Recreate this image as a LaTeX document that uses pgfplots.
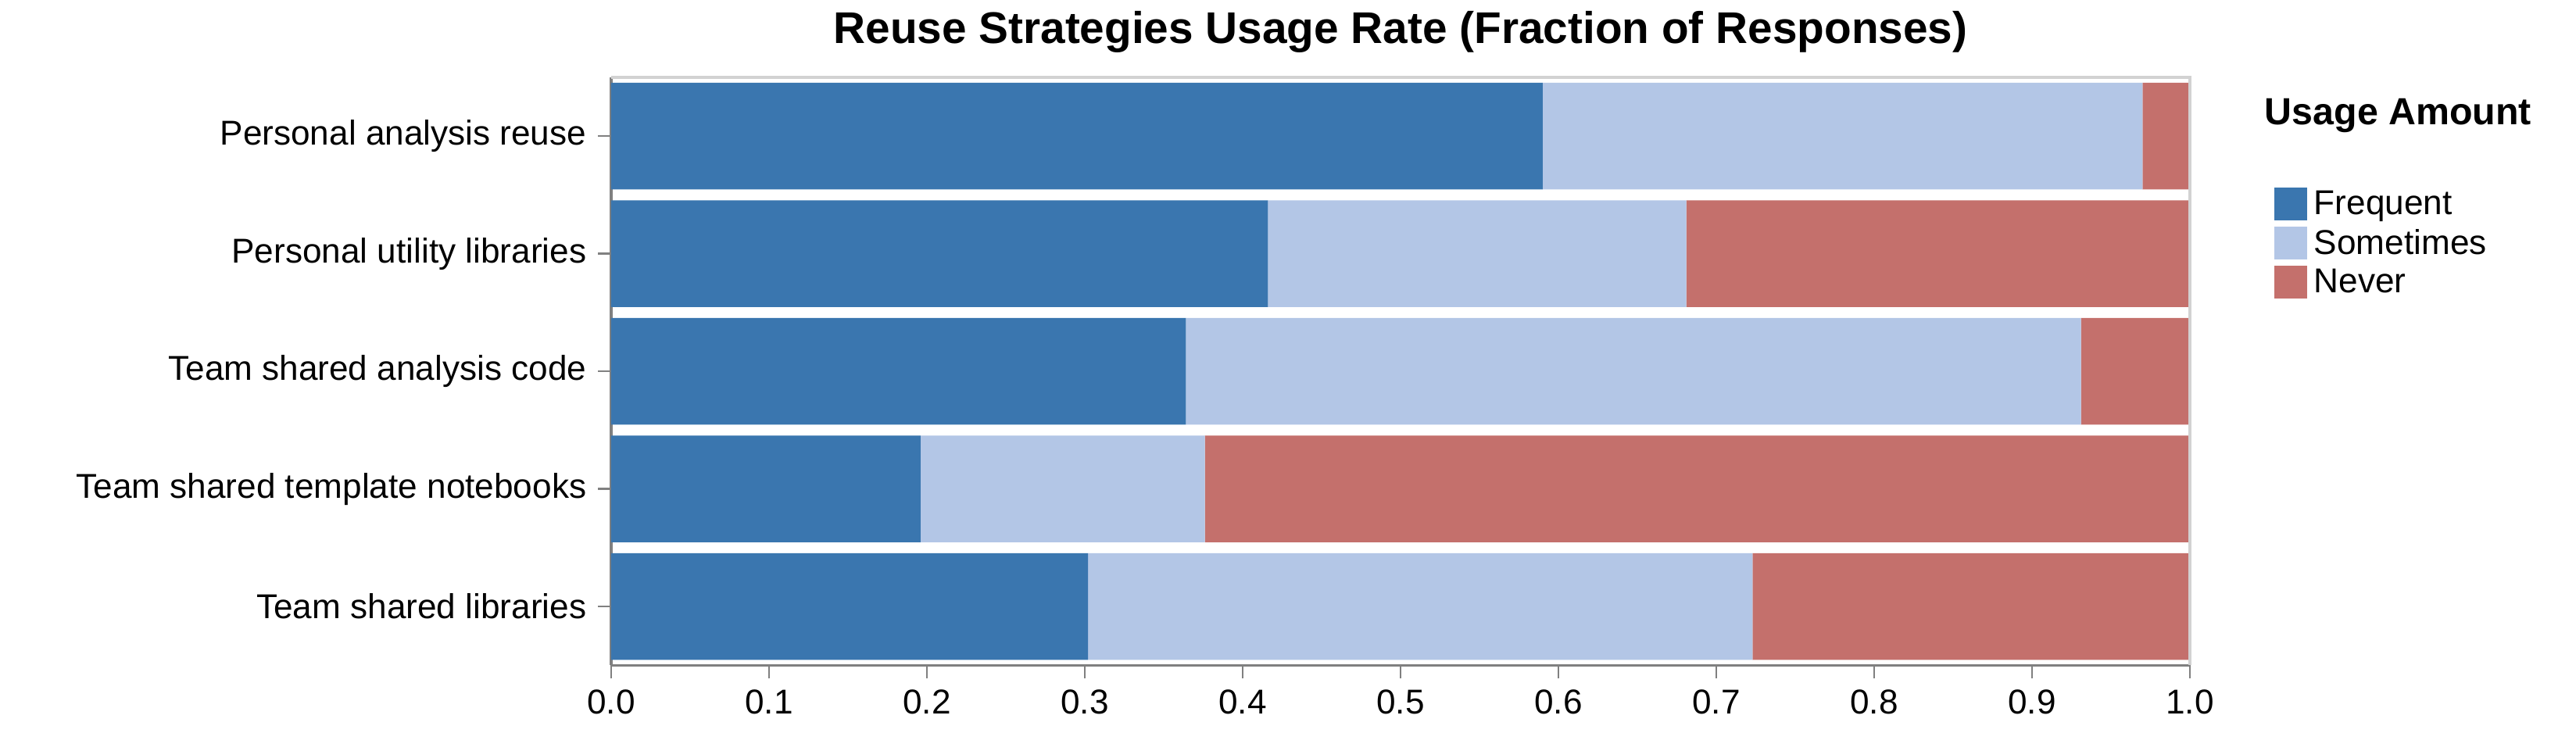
\documentclass[border=0pt]{standalone}
\usepackage{pgfplots}
\pgfplotsset{compat=1.18}
\usepackage{fontspec}
\setmainfont{Liberation Sans}
\definecolor{cF}{HTML}{3A76AF}
\definecolor{cS}{HTML}{B3C6E6}
\definecolor{cN}{HTML}{C4706C}
\begin{document}
\begin{tikzpicture}
\path[use as bounding box] (-186pt,-26pt) rectangle (598pt,202.5pt);
\begin{axis}[at={(0,0)},anchor=south west,scale only axis,
 width=480.5pt,height=179pt,
 xbar stacked, bar width=32.5pt,
 xmin=0,xmax=1,ymin=-0.5,ymax=4.5,y dir=reverse,
 xtick={0,0.1,...,1.0},
 xticklabels={0.0,0.1,0.2,0.3,0.4,0.5,0.6,0.7,0.8,0.9,1.0},
 ytick={0,1,2,3,4},
 yticklabels={Personal analysis reuse,Personal utility libraries,Team shared analysis code,Team shared template notebooks,Team shared libraries},
 tick align=outside, tick style={gray,line width=0.6pt}, major tick length=4pt,
 ticklabel style={font=\fontsize{10.5}{12}\selectfont},
 /pgf/number format/assume math mode=true,
 axis line style={draw=none},
 axis x line*=bottom, axis y line*=left,
 title={\bfseries\fontsize{13.5}{15}\selectfont Reuse Strategies Usage Rate (Fraction of Responses)},
 title style={yshift=-2pt},
 legend style={at={(1.047,0.83)},anchor=north west,draw=none,font=\fontsize{10.5}{12}\selectfont,row sep=-1pt},
 legend cell align=left,
 legend image code/.code={\fill[#1] (0pt,-4.5pt) rectangle (10pt,5.5pt);},
 clip=false]
\draw[gray!35,line width=0.8pt] (rel axis cs:0,1) -- (rel axis cs:1,1) -- (rel axis cs:1,0);
\addplot[fill=cF,draw=none] coordinates {(0.590,0) (0.416,1) (0.364,2) (0.196,3) (0.302,4)};
\addplot[fill=cS,draw=none] coordinates {(0.380,0) (0.265,1) (0.567,2) (0.180,3) (0.421,4)};
\addplot[fill=cN,draw=none] coordinates {(0.030,0) (0.319,1) (0.069,2) (0.624,3) (0.277,4)};
\legend{Frequent,Sometimes,Never}
\draw[gray,line width=0.8pt] (rel axis cs:0,0) -- (rel axis cs:1,0);
\draw[gray,line width=0.8pt] (rel axis cs:0,0) -- (rel axis cs:0,1);
\node[anchor=north west,font=\bfseries\fontsize{11.5}{13}\selectfont,inner sep=0pt] at (rel axis cs:1.047,0.965) {Usage Amount};
\end{axis}
\end{tikzpicture}
\end{document}
